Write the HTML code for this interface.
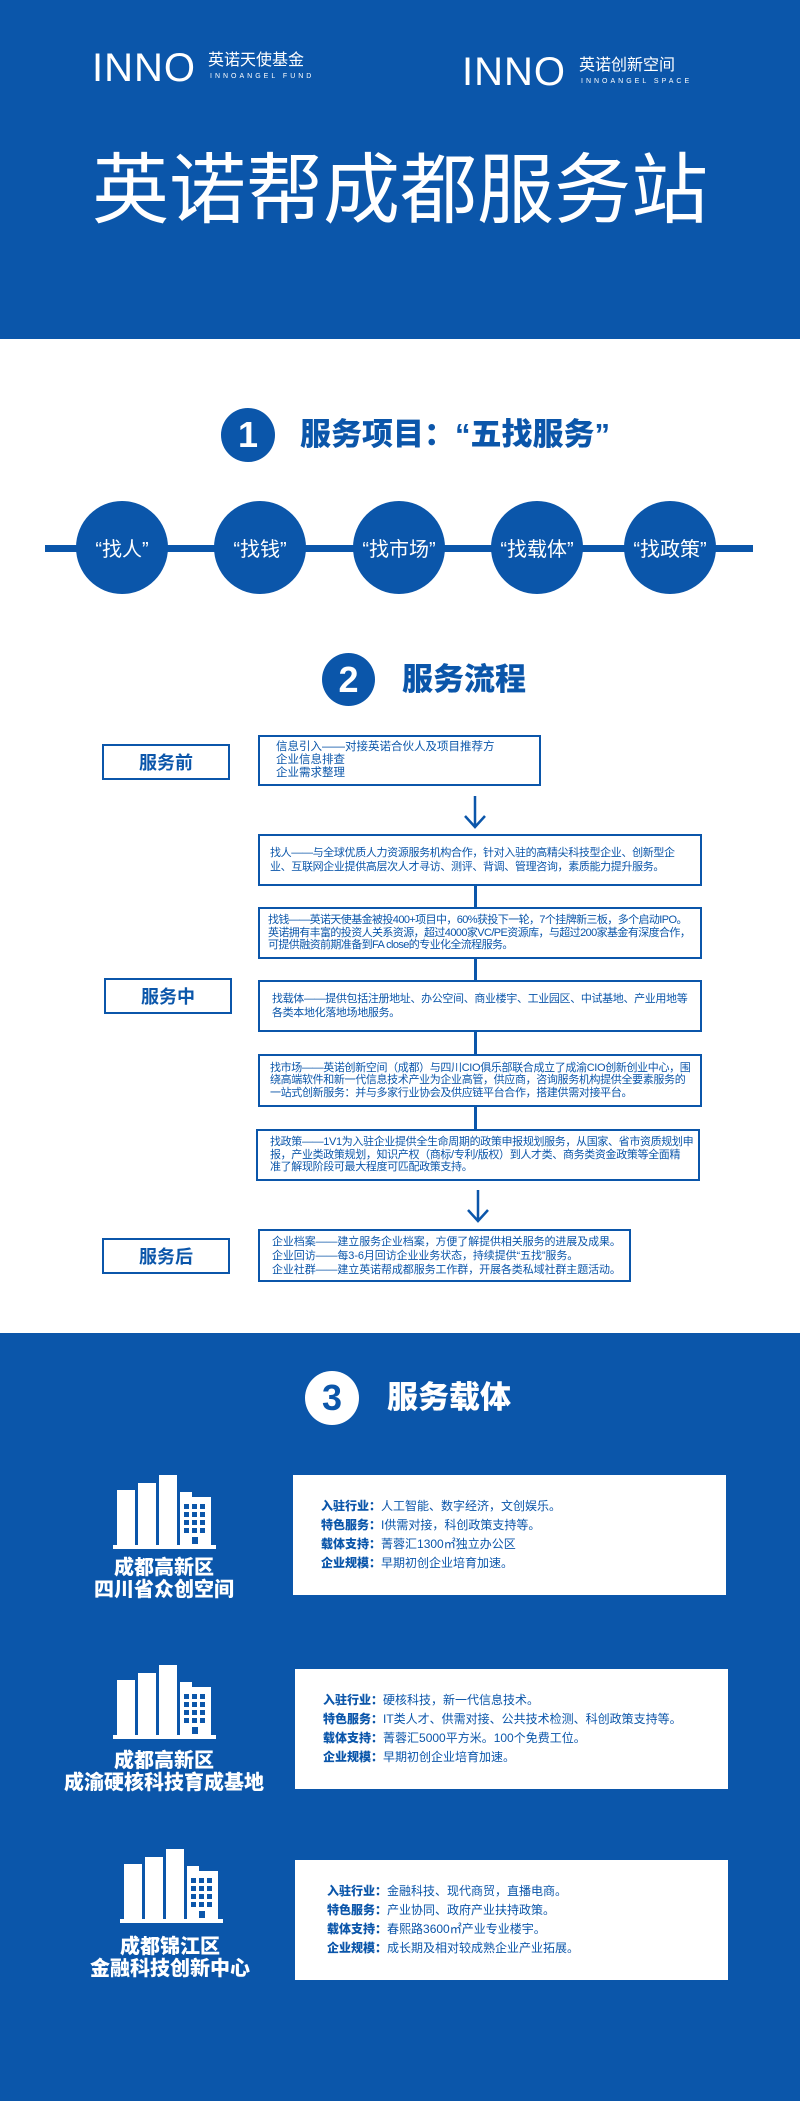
<!DOCTYPE html>
<html><head><meta charset="utf-8"><style>
*{margin:0;padding:0;box-sizing:border-box}
body{width:800px;height:2101px;position:relative;background:#fff;font-family:"Liberation Sans","Noto Sans CJK SC",sans-serif;overflow:hidden}
.a{position:absolute}
.blue{background:#0b56aa}
.t{white-space:nowrap}
.circ{position:absolute;border-radius:50%;background:#0b56aa;color:#fff;display:flex;align-items:center;justify-content:center}
.num{font-weight:bold;font-size:36px;font-family:"Liberation Sans",sans-serif}
.h{position:absolute;color:#0b56aa;font-weight:900;font-size:31px;line-height:36px;white-space:nowrap}
.lab{position:absolute;border:2px solid #0b56aa;color:#0b56aa;font-weight:bold;font-size:18px;display:flex;align-items:center;justify-content:center}
.box{position:absolute;border:2px solid #0b56aa;color:#0b56aa;font-size:11px;letter-spacing:-0.35px;line-height:12.5px;padding:0 0 0 14px;display:flex;flex-direction:column;justify-content:center;white-space:nowrap;overflow:hidden}
.vl{position:absolute;width:3px;background:#0b56aa}
.card{position:absolute;background:#fff;color:#0b56aa;font-size:12px;line-height:19px;padding-left:28px;display:flex;flex-direction:column;justify-content:center;white-space:nowrap}
.card b{font-weight:900}
.bl{position:absolute;color:#fff;font-weight:900;font-size:20px;line-height:22px;text-align:center;white-space:nowrap}
</style></head><body>
<div class="a blue" style="left:0;top:0;width:800px;height:339px"></div>
<!-- logos -->
<div class="a t" style="left:92px;top:48px;color:#fff;font-size:40px;letter-spacing:1px;line-height:40px">INNO</div>
<div class="a t" style="left:208px;top:52px;color:#fff;font-size:16px;line-height:18px">英诺天使基金</div>
<div class="a t" style="left:210px;top:73px;color:#fff;font-size:7px;letter-spacing:3px">INNOANGEL FUND</div>
<div class="a t" style="left:462px;top:52px;color:#fff;font-size:40px;letter-spacing:1px;line-height:40px">INNO</div>
<div class="a t" style="left:579px;top:57px;color:#fff;font-size:16px;line-height:18px">英诺创新空间</div>
<div class="a t" style="left:581px;top:78px;color:#fff;font-size:7px;letter-spacing:3px">INNOANGEL SPACE</div>
<div class="a t" style="left:84px;top:146px;width:632px;text-align:center;color:#fff;font-size:77px;line-height:90px">英诺帮成都服务站</div>

<!-- section 1 -->
<div class="circ num" style="left:221px;top:408px;width:54px;height:54px">1</div>
<div class="h" style="left:300px;top:417px">服务项目：“五找服务”</div>
<div class="a blue" style="left:45px;top:545px;width:708px;height:7px"></div>
<div class="circ" style="left:76px;top:501px;width:92px;height:93px;font-size:20px">“找人”</div>
<div class="circ" style="left:214px;top:501px;width:92px;height:93px;font-size:20px">“找钱”</div>
<div class="circ" style="left:353px;top:501px;width:92px;height:93px;font-size:20px">“找市场”</div>
<div class="circ" style="left:491px;top:501px;width:92px;height:93px;font-size:20px">“找载体”</div>
<div class="circ" style="left:624px;top:501px;width:92px;height:93px;font-size:20px">“找政策”</div>

<!-- section 2 -->
<div class="circ num" style="left:322px;top:653px;width:53px;height:53px">2</div>
<div class="h" style="left:402px;top:662px">服务流程</div>

<div class="lab" style="left:102px;top:744px;width:128px;height:36px">服务前</div>
<div class="box" style="left:258px;top:735px;width:283px;height:51px;font-size:11.5px;line-height:13px;padding-left:16px;letter-spacing:0">
<div>信息引入——对接英诺合伙人及项目推荐方</div><div>企业信息排查</div><div>企业需求整理</div></div>
<svg class="a" style="left:463px;top:796px" width="24" height="34"><path d="M12 0V31M2 20L12 31L22 20" stroke="#0b56aa" stroke-width="2.5" fill="none"/></svg>

<div class="box" style="left:258px;top:834px;width:444px;height:52px;padding-left:10px;line-height:14px"><div>找人——与全球优质人力资源服务机构合作，针对入驻的高精尖科技型企业、创新型企</div><div>业、互联网企业提供高层次人才寻访、测评、背调、管理咨询，素质能力提升服务。</div></div>
<div class="vl" style="left:474px;top:886px;height:21px"></div>
<div class="box" style="left:258px;top:907px;width:444px;height:52px;padding-left:8px;letter-spacing:-0.6px"><div>找钱——英诺天使基金被投400+项目中，60%获投下一轮，7个挂牌新三板，多个启动IPO。</div><div>英诺拥有丰富的投资人关系资源，超过4000家VC/PE资源库，与超过200家基金有深度合作，</div><div>可提供融资前期准备到FA close的专业化全流程服务。</div></div>
<div class="vl" style="left:474px;top:959px;height:21px"></div>
<div class="lab" style="left:104px;top:978px;width:128px;height:36px">服务中</div>
<div class="box" style="left:258px;top:980px;width:444px;height:52px;padding-left:12px;line-height:14px"><div>找载体——提供包括注册地址、办公空间、商业楼宇、工业园区、中试基地、产业用地等</div><div>各类本地化落地场地服务。</div></div>
<div class="vl" style="left:474px;top:1032px;height:22px"></div>
<div class="box" style="left:258px;top:1054px;width:444px;height:53px;padding-left:10px"><div>找市场——英诺创新空间（成都）与四川CIO俱乐部联合成立了成渝CIO创新创业中心，围</div><div>绕高端软件和新一代信息技术产业为企业高管，供应商，咨询服务机构提供全要素服务的</div><div>一站式创新服务：并与多家行业协会及供应链平台合作，搭建供需对接平台。</div></div>
<div class="vl" style="left:474px;top:1107px;height:22px"></div>
<div class="box" style="left:256px;top:1129px;width:444px;height:52px;padding-left:12px"><div>找政策——1V1为入驻企业提供全生命周期的政策申报规划服务，从国家、省市资质规划申</div><div>报，产业类政策规划，知识产权（商标/专利/版权）到人才类、商务类资金政策等全面精</div><div>准了解现阶段可最大程度可匹配政策支持。</div></div>
<svg class="a" style="left:466px;top:1190px" width="24" height="34"><path d="M12 0V31M2 20L12 31L22 20" stroke="#0b56aa" stroke-width="2.5" fill="none"/></svg>
<div class="lab" style="left:102px;top:1238px;width:128px;height:36px">服务后</div>
<div class="box" style="left:258px;top:1229px;width:373px;height:53px;padding-left:12px;font-size:11px;letter-spacing:-0.1px;line-height:14px">
<div>企业档案——建立服务企业档案，方便了解提供相关服务的进展及成果。</div><div>企业回访——每3-6月回访企业业务状态，持续提供“五找”服务。</div><div>企业社群——建立英诺帮成都服务工作群，开展各类私域社群主题活动。</div></div>

<!-- section 3 -->
<div class="a blue" style="left:0;top:1333px;width:800px;height:768px"></div>
<div class="circ num" style="left:305px;top:1371px;width:54px;height:54px;background:#fff;color:#0b56aa">3</div>
<div class="h" style="left:387px;top:1380px;color:#fff">服务载体</div>

<svg width="0" height="0" style="position:absolute"><defs><g id="bld" fill="#fff">
<rect x="0" y="70" width="103" height="4"/>
<rect x="4" y="15" width="18" height="56"/>
<rect x="25" y="8" width="18" height="63"/>
<rect x="46" y="0" width="18" height="71"/>
<path d="M67 17H79V22H98V71H67Z"/>
</g></defs></svg>

<svg class="a" style="left:113px;top:1475px" width="104" height="75"><use href="#bld"/></svg>
<svg class="a" style="left:113px;top:1665px" width="104" height="75"><use href="#bld"/></svg>
<svg class="a" style="left:120px;top:1849px" width="104" height="75"><use href="#bld"/></svg>
<svg class="a" style="left:0;top:0" width="800" height="2101">
<g fill="#0b56aa">
<g id="win"><rect x="184" y="1504" width="5" height="5"/><rect x="192" y="1504" width="5" height="5"/><rect x="200" y="1504" width="5" height="5"/>
<rect x="184" y="1512" width="5" height="5"/><rect x="192" y="1512" width="5" height="5"/><rect x="200" y="1512" width="5" height="5"/>
<rect x="184" y="1520" width="5" height="5"/><rect x="192" y="1520" width="5" height="5"/><rect x="200" y="1520" width="5" height="5"/>
<rect x="184" y="1528" width="5" height="5"/><rect x="192" y="1528" width="5" height="5"/><rect x="200" y="1528" width="5" height="5"/>
<rect x="192" y="1537" width="6" height="7"/></g>
<use href="#win" y="190"/>
<use href="#win" x="7" y="374"/>
</g></svg>

<div class="bl" style="left:64px;top:1557px;width:200px">成都高新区<br>四川省众创空间</div>
<div class="bl" style="left:44px;top:1750px;width:240px">成都高新区<br>成渝硬核科技育成基地</div>
<div class="bl" style="left:50px;top:1936px;width:240px">成都锦江区<br>金融科技创新中心</div>

<div class="card" style="left:293px;top:1475px;width:433px;height:120px">
<div><b>入驻行业：</b>人工智能、数字经济，文创娱乐。</div>
<div><b>特色服务：</b>I供需对接，科创政策支持等。</div>
<div><b>载体支持：</b>菁蓉汇1300㎡独立办公区</div>
<div><b>企业规模：</b>早期初创企业培育加速。</div></div>
<div class="card" style="left:295px;top:1669px;width:433px;height:120px">
<div><b>入驻行业：</b>硬核科技，新一代信息技术。</div>
<div><b>特色服务：</b>IT类人才、供需对接、公共技术检测、科创政策支持等。</div>
<div><b>载体支持：</b>菁蓉汇5000平方米。100个免费工位。</div>
<div><b>企业规模：</b>早期初创企业培育加速。</div></div>
<div class="card" style="left:295px;top:1860px;width:433px;height:120px;padding-left:32px">
<div><b>入驻行业：</b>金融科技、现代商贸，直播电商。</div>
<div><b>特色服务：</b>产业协同、政府产业扶持政策。</div>
<div><b>载体支持：</b>春熙路3600㎡产业专业楼宇。</div>
<div><b>企业规模：</b>成长期及相对较成熟企业产业拓展。</div></div>
</body></html>
